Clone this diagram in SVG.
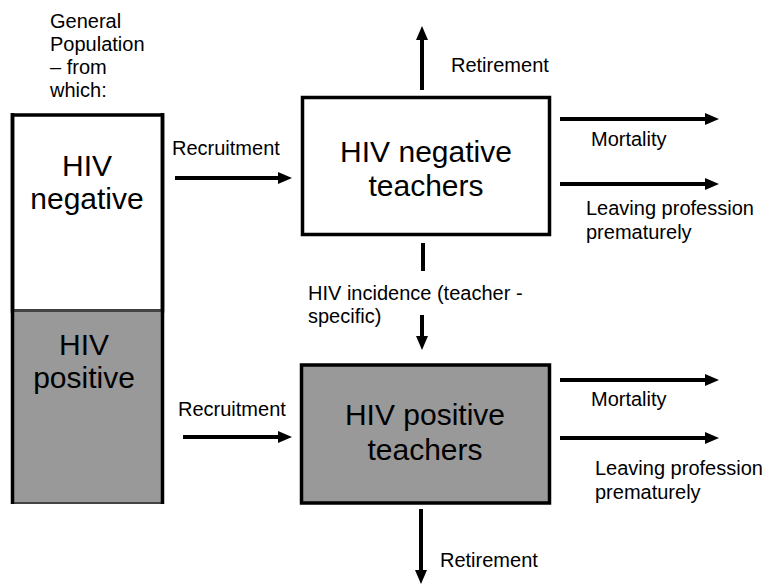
<svg xmlns="http://www.w3.org/2000/svg" width="776" height="586" viewBox="0 0 776 586">
<style>
text{font-family:"Liberation Sans",Arial,sans-serif;fill:#000}
.s{font-size:20px}
.b{font-size:30px}
.box{stroke:#000;stroke-width:3.5}
.ln{stroke:#000;stroke-width:4;fill:none}
.ar{marker-end:url(#ah)}
</style>
<defs>
<marker id="ah" markerUnits="userSpaceOnUse" markerWidth="14" markerHeight="12" refX="2" refY="6" orient="auto" viewBox="0 0 14 12">
<path d="M0,0 L14,6 L0,12 Z" fill="#000"/>
</marker>
</defs>
<rect width="776" height="586" fill="#fff"/>
<g id="general-population">
<text class="s"><tspan x="50" y="28">General</tspan><tspan x="50" y="51">Population</tspan><tspan x="50" y="74">– from</tspan><tspan x="50" y="97">which:</tspan></text>
<rect x="12.5" y="115" width="150" height="196" fill="#fff" class="box"/>
<rect x="12.5" y="311" width="150" height="192" fill="#999" stroke="#444" stroke-width="2"/>
<line x1="12.5" y1="113" x2="12.5" y2="504" class="box"/>
<line x1="162.5" y1="113" x2="162.5" y2="504" class="box"/>
<text class="b" text-anchor="middle"><tspan x="87" y="176">HIV</tspan><tspan x="87" y="209">negative</tspan></text>
<text class="b" text-anchor="middle"><tspan x="84" y="355">HIV</tspan><tspan x="84" y="388">positive</tspan></text>
</g>
<g id="hiv-negative-teachers">
<rect x="302.5" y="97.5" width="247" height="137" fill="#fff" class="box"/>
<text class="b" text-anchor="middle"><tspan x="426" y="162">HIV negative</tspan><tspan x="426" y="196">teachers</tspan></text>
</g>
<g id="hiv-positive-teachers">
<rect x="301.5" y="365" width="248" height="138" fill="#999" class="box"/>
<text class="b" text-anchor="middle"><tspan x="425" y="425">HIV positive</tspan><tspan x="425" y="460">teachers</tspan></text>
</g>
<g id="connectors">
<line x1="175" y1="178" x2="280" y2="178" class="ln ar"/>
<text class="s" x="172" y="155">Recruitment</text>
<line x1="183" y1="437" x2="280" y2="437" class="ln ar"/>
<text class="s" x="178" y="416">Recruitment</text>
<line x1="422" y1="90" x2="422" y2="38" class="ln ar"/>
<text class="s" x="451" y="72">Retirement</text>
<line x1="560" y1="119" x2="707" y2="119" class="ln ar"/>
<text class="s" x="591" y="146">Mortality</text>
<line x1="560" y1="184" x2="707" y2="184" class="ln ar"/>
<text class="s"><tspan x="586" y="215">Leaving profession</tspan><tspan x="586" y="239">prematurely</tspan></text>
<line x1="423" y1="243" x2="423" y2="271" class="ln"/>
<text class="s"><tspan x="308" y="300">HIV incidence (teacher -</tspan><tspan x="308" y="323">specific)</tspan></text>
<line x1="422" y1="315" x2="422" y2="338" class="ln ar"/>
<line x1="560" y1="380" x2="707" y2="380" class="ln ar"/>
<text class="s" x="591" y="406">Mortality</text>
<line x1="560" y1="438" x2="707" y2="438" class="ln ar"/>
<text class="s"><tspan x="595" y="475">Leaving profession</tspan><tspan x="595" y="499">prematurely</tspan></text>
<line x1="421" y1="509" x2="421" y2="572" class="ln ar"/>
<text class="s" x="440" y="567">Retirement</text>
</g>
</svg>
